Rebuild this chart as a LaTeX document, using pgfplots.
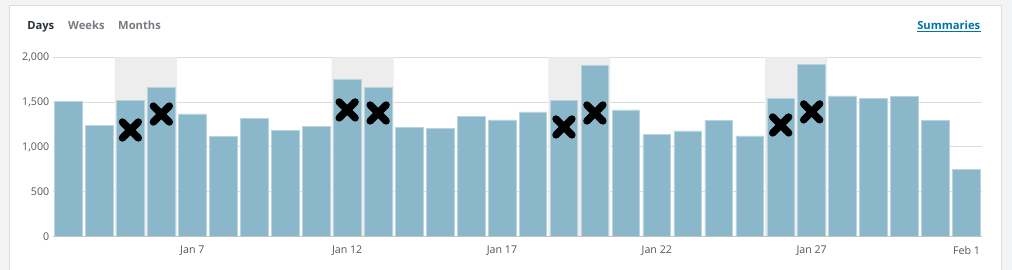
\documentclass[border=0pt]{standalone}
\usepackage{fontspec}
\setmainfont{Open Sans}
\usepackage{pgfplots}
\pgfplotsset{compat=1.18}
\usepackage{pgfplotstable}
\definecolor{pagebg}{HTML}{F1F3F5}
\definecolor{panelborder}{HTML}{DCDCDE}
\definecolor{gridgray}{HTML}{DCDCDE}
\definecolor{axisgray}{HTML}{C3C4C7}
\definecolor{barblue}{HTML}{8BB7CB}
\definecolor{baredge}{HTML}{B9D3DF}
\definecolor{wkend}{HTML}{EDEDED}
\definecolor{ticktext}{HTML}{50575E}
\definecolor{darktext}{HTML}{2C3338}
\definecolor{graytext}{HTML}{787C82}
\definecolor{linkblue}{HTML}{0073AA}

\pgfplotstableread{
idx views
0 1508
1 1240
2 1516
3 1661
4 1367
5 1114
6 1315
7 1181
8 1225
9 1750
10 1665
11 1214
12 1207
13 1341
14 1300
15 1389
16 1520
17 1907
18 1412
19 1136
20 1177
21 1296
22 1121
23 1538
24 1922
25 1568
26 1538
27 1564
28 1292
29 749
}\views

\begin{document}
\begin{tikzpicture}
\useasboundingbox (-39.75pt,-25.125pt) rectangle (719.625pt,177.375pt);
\fill[pagebg] (-39.75pt,-25.125pt) rectangle (719.625pt,177.375pt);
\filldraw[fill=white, draw=panelborder, line width=0.75pt] (-32.25pt,-40pt) rectangle (711.4pt,173.25pt);
\node[anchor=base west, inner sep=0pt, font=\fontsize{8.4pt}{10pt}\selectfont\bfseries, text=darktext] at (-19.5pt,155.6pt) {Days};
\node[anchor=base west, inner sep=0pt, font=\fontsize{8.4pt}{10pt}\selectfont\bfseries, text=graytext] at (11.25pt,155.6pt) {Weeks};
\node[anchor=base west, inner sep=0pt, font=\fontsize{8.4pt}{10pt}\selectfont\bfseries, text=graytext] at (48.75pt,155.6pt) {Months};
\node[anchor=base east, inner sep=0pt, font=\fontsize{8.4pt}{10pt}\selectfont\bfseries, text=linkblue] (summ) at (696pt,155.6pt) {Summaries};
\draw[linkblue, line width=0.75pt] ([yshift=-1.6pt]summ.base west) -- ([yshift=-1.6pt]summ.base east);
\begin{axis}[
  at={(0,0)}, anchor=south west,
  scale only axis, width=697.1pt, height=134.4pt,
  xmin=-0.5, xmax=29.5, ymin=0, ymax=2000,
  axis line style={draw=none},
  major tick length=0pt,
  ytick={0,500,1000,1500,2000},
  ymajorgrids, grid style={draw=gridgray, line width=0.75pt},
  xtick={4,9,14,19,24,29},
  xticklabels={Jan 7,Jan 12,Jan 17,Jan 22,Jan 27,Feb 1},
  /pgf/number format/assume math mode=true,
  /pgf/number format/1000 sep={,},
  tick label style={font=\fontsize{8pt}{9pt}\selectfont, text=ticktext},
  yticklabel style={anchor=east, inner sep=0pt, xshift=-2.6pt},
  xticklabel style={anchor=center, inner sep=0pt, yshift=-10.7pt},
]
\addplot[ybar, bar width=1, bar shift=0pt, fill=wkend, draw=none]
  coordinates {(2,2000)(3,2000)(9,2000)(10,2000)(16,2000)(17,2000)(23,2000)(24,2000)};
\addplot[ybar, bar width=0.895, bar shift=0pt, fill=barblue, draw=baredge, line width=0.5pt]
  table[x=idx, y=views] {\views};
\draw[axisgray, line width=0.75pt] (axis cs:-0.5,0) -- (axis cs:29.5,0);
\addplot[only marks, mark=x, mark size=8.5pt, black, mark options={line width=5.5pt, line cap=round}]
  coordinates {(2,1188)(3,1366)(9,1412)(10,1378)(16,1222)(17,1378)(23,1244)(24,1390)};
\end{axis}
\end{tikzpicture}
\end{document}
